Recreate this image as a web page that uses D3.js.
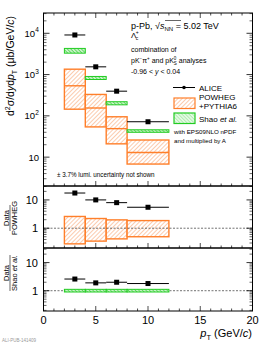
<!doctype html>
<html lang="en">
<head>
<meta charset="utf-8">
<title>Lambda_c+ cross section p-Pb</title>
<script src="https://d3js.org/d3.v7.min.js"></script>
<style>
  body { margin: 0; background: #fff; }
  svg { font-family: "Liberation Sans", Arial, sans-serif; }
</style>
</head>
<body>
<svg id="chart" width="261" height="345"></svg>
<script>
// pT bins
const ptCenters = [3, 5, 7, 10];
const ptLow = [2, 4, 6, 8];
const ptHigh = [4, 6, 8, 12];

// cross section (ub/GeV/c)
const aliceVals = [9100, 1540, 396, 72];
const powhegCentral = [535, 155, 49, 13];
const powhegLow = [145, 54, 21, 6.8];
const powhegHigh = [1350, 330, 95, 26];
const shaoLow = [3300, 760, 185, 40];
const shaoHigh = [4300, 900, 220, 46];

// ratios
const ratioPowheg = [17.5, 10, 8, 5.5];
const ratioPowhegLow = [0.28, 0.35, 0.42, 0.5];
const ratioPowhegHigh = [2.6, 2.2, 1.97, 1.86];
const ratioShao = [2.6, 1.9, 2.0, 1.8];
const ratioShaoLow = [0.9, 0.9, 0.9, 0.9];
const ratioShaoHigh = [1.12, 1.12, 1.12, 1.12];

const xTicks = [0, 5, 10, 15, 20];

const orange = "#ff7f2a";
const green = "#22cc22";

const svg = d3.select("#chart");
const L = 43.5, R = 252.5;
const x = d3.scaleLinear().domain([0, 20]).range([L, R]);

const yMain = d3.scaleLog().domain([2, 3.1e4]).range([186, 13]);
const yMid = d3.scaleLog().domain([0.2, 31]).range([248, 186]);
const yBot = d3.scaleLog().domain([0.19, 33]).range([311, 248]);

// hatch patterns
const defs = svg.append("defs");
const po = defs.append("pattern").attr("id", "hatchO").attr("patternUnits", "userSpaceOnUse")
  .attr("width", 3).attr("height", 3).attr("patternTransform", "rotate(45)");
po.append("rect").attr("width", 3).attr("height", 3).attr("fill", "#fff");
po.append("line").attr("x1", 0).attr("y1", 0).attr("x2", 0).attr("y2", 3)
  .attr("stroke", "#f9a877").attr("stroke-width", 1.2);
const pg = defs.append("pattern").attr("id", "hatchG").attr("patternUnits", "userSpaceOnUse")
  .attr("width", 2.5).attr("height", 2.5).attr("patternTransform", "rotate(-45)");
pg.append("rect").attr("width", 2.5).attr("height", 2.5).attr("fill", "#c8f2c8");
pg.append("line").attr("x1", 0).attr("y1", 0).attr("x2", 0).attr("y2", 2.5)
  .attr("stroke", green).attr("stroke-width", 1.1);

const idx = d3.range(ptCenters.length);

// ---- main panel ----
const gm = svg.append("g");
// POWHEG boxes
gm.selectAll(".pw").data(idx).enter().append("rect")
  .attr("x", i => x(ptLow[i])).attr("width", i => x(ptHigh[i]) - x(ptLow[i]))
  .attr("y", i => yMain(powhegHigh[i])).attr("height", i => yMain(powhegLow[i]) - yMain(powhegHigh[i]))
  .attr("fill", "url(#hatchO)").attr("stroke", orange).attr("stroke-width", 1.4);
gm.selectAll(".pwc").data(idx).enter().append("line")
  .attr("x1", i => x(ptLow[i])).attr("x2", i => x(ptHigh[i]))
  .attr("y1", i => yMain(powhegCentral[i])).attr("y2", i => yMain(powhegCentral[i]))
  .attr("stroke", orange).attr("stroke-width", 1.4);
// Shao boxes
gm.selectAll(".sh").data(idx).enter().append("rect")
  .attr("x", i => x(ptLow[i])).attr("width", i => x(ptHigh[i]) - x(ptLow[i]))
  .attr("y", i => yMain(shaoHigh[i])).attr("height", i => yMain(shaoLow[i]) - yMain(shaoHigh[i]))
  .attr("fill", "url(#hatchG)").attr("stroke", green).attr("stroke-width", 1);

function drawPoints(g, ys, vals) {
  g.selectAll(null).data(idx).enter().append("line")
    .attr("x1", i => x(ptLow[i])).attr("x2", i => x(ptHigh[i]))
    .attr("y1", i => ys(vals[i])).attr("y2", i => ys(vals[i]))
    .attr("stroke", "#000").attr("stroke-width", 1);
  g.selectAll(null).data(idx).enter().append("rect")
    .attr("x", i => x(ptCenters[i]) - 2.5).attr("y", i => ys(vals[i]) - 2.5)
    .attr("width", 5).attr("height", 5).attr("fill", "#000");
}
drawPoints(gm, yMain, aliceVals);

// ---- middle panel ----
const gmid = svg.append("g");
gmid.selectAll(null).data(idx).enter().append("rect")
  .attr("x", i => x(ptLow[i])).attr("width", i => x(ptHigh[i]) - x(ptLow[i]))
  .attr("y", i => yMid(ratioPowhegHigh[i])).attr("height", i => yMid(ratioPowhegLow[i]) - yMid(ratioPowhegHigh[i]))
  .attr("fill", "url(#hatchO)").attr("stroke", orange).attr("stroke-width", 1.4);
gmid.append("line").attr("x1", L).attr("x2", R).attr("y1", yMid(1)).attr("y2", yMid(1))
  .attr("stroke", "#333").attr("stroke-width", 0.7).attr("stroke-dasharray", "2,1.5");
drawPoints(gmid, yMid, ratioPowheg);

// ---- bottom panel ----
const gb = svg.append("g");
gb.append("line").attr("x1", L).attr("x2", R).attr("y1", yBot(1)).attr("y2", yBot(1))
  .attr("stroke", "#333").attr("stroke-width", 0.7).attr("stroke-dasharray", "2,1.5");
gb.selectAll(null).data(idx).enter().append("rect")
  .attr("x", i => x(ptLow[i])).attr("width", i => x(ptHigh[i]) - x(ptLow[i]))
  .attr("y", i => yBot(ratioShaoHigh[i])).attr("height", i => yBot(ratioShaoLow[i]) - yBot(ratioShaoHigh[i]))
  .attr("fill", "url(#hatchG)").attr("stroke", green).attr("stroke-width", 1);
drawPoints(gb, yBot, ratioShao);

// ---- frames and ticks ----
function frame(top, bottom, ys, majors, minors, topTicks) {
  svg.append("rect").attr("x", L).attr("y", top).attr("width", R - L).attr("height", bottom - top)
    .attr("fill", "none").attr("stroke", "#000").attr("stroke-width", 1);
  const ax = svg.append("g");
  // log y ticks left + right
  majors.forEach(v => {
    ax.append("line").attr("x1", L).attr("x2", L + 6).attr("y1", ys(v)).attr("y2", ys(v)).attr("stroke", "#000").attr("stroke-width", 0.8);
    ax.append("line").attr("x1", R).attr("x2", R - 6).attr("y1", ys(v)).attr("y2", ys(v)).attr("stroke", "#000").attr("stroke-width", 0.8);
  });
  minors.forEach(v => {
    ax.append("line").attr("x1", L).attr("x2", L + 3).attr("y1", ys(v)).attr("y2", ys(v)).attr("stroke", "#000").attr("stroke-width", 0.6);
    ax.append("line").attr("x1", R).attr("x2", R - 3).attr("y1", ys(v)).attr("y2", ys(v)).attr("stroke", "#000").attr("stroke-width", 0.6);
  });
  // x ticks
  d3.range(0, 21).forEach(v => {
    const len = v % 5 === 0 ? 5 : 2.5;
    ax.append("line").attr("x1", x(v)).attr("x2", x(v)).attr("y1", bottom).attr("y2", bottom - len).attr("stroke", "#000").attr("stroke-width", 0.7);
    if (topTicks) ax.append("line").attr("x1", x(v)).attr("x2", x(v)).attr("y1", top).attr("y2", top + len).attr("stroke", "#000").attr("stroke-width", 0.7);
  });
}
function logMinors(ys) {
  const [lo, hi] = ys.domain();
  const out = [];
  for (let e = -2; e <= 5; e++) for (let m = 2; m <= 9; m++) {
    const v = m * Math.pow(10, e);
    if (v > lo && v < hi) out.push(v);
  }
  return out;
}
frame(13, 186, yMain, [10, 100, 1000, 10000], logMinors(yMain), true);
frame(186, 248, yMid, [1, 10], logMinors(yMid), false);
frame(248, 311, yBot, [1, 10], logMinors(yBot), false);

// tick labels
function powLabel(v, exp, ys) {
  svg.append("text").attr("x", exp ? 35 : 39).attr("y", ys(v) + 3.5)
    .attr("text-anchor", "end").attr("font-size", 9.5).text("10");
  if (exp) {
    svg.append("text").attr("x", 35.3).attr("y", ys(v) - 1).attr("font-size", 6.5).text(exp);
  }
}
powLabel(10000, "4", yMain);
powLabel(1000, "3", yMain);
powLabel(100, "2", yMain);
powLabel(10, null, yMain);
[[yMid, 10], [yMid, 1], [yBot, 10], [yBot, 1]].forEach(([ys, v]) => {
  svg.append("text").attr("x", 38).attr("y", ys(v) + 4).attr("text-anchor", "end")
    .attr("font-size", 11).text(v);
});
xTicks.forEach(v => {
  svg.append("text").attr("x", x(v)).attr("y", 324).attr("text-anchor", "middle")
    .attr("font-size", 11).text(v);
});

// axis titles
const yt = svg.append("text").attr("transform", "translate(14,66) rotate(-90)")
  .attr("text-anchor", "middle").attr("font-size", 10.5);
yt.append("tspan").text("d");
yt.append("tspan").attr("font-size", 7).attr("dy", -4).text("2");
yt.append("tspan").attr("dy", 4).text("σ/d");
yt.append("tspan").attr("font-style", "italic").text("y");
yt.append("tspan").text("d");
yt.append("tspan").attr("font-style", "italic").text("p");
yt.append("tspan").attr("font-size", 7).attr("dy", 3).text("T");
yt.append("tspan").attr("dy", -3).text("  (μb/GeV/");
yt.append("tspan").attr("font-style", "italic").text("c");
yt.append("tspan").text(")");

function fraction(cy, top, bottomParts, half) {
  const g = svg.append("g").attr("transform", `translate(10,${cy}) rotate(-90)`);
  g.append("text").attr("y", -1.5).attr("text-anchor", "middle").attr("font-size", 7.5).text(top);
  const b = g.append("text").attr("y", 6.5).attr("text-anchor", "middle").attr("font-size", 7.5);
  bottomParts.forEach(p => b.append("tspan").attr("font-style", p[1] ? "italic" : null).text(p[0]));
  g.append("line").attr("x1", -half).attr("x2", half).attr("y1", 0).attr("y2", 0)
    .attr("stroke", "#000").attr("stroke-width", 0.6);
  return g;
}
fraction(218, "Data", [["POWHEG", false]], 13);
fraction(273, "Data", [["Shao ", false], ["et al.", true]], 18);

const xt = svg.append("text").attr("x", 252).attr("y", 337).attr("text-anchor", "end").attr("font-size", 11);
xt.append("tspan").attr("font-style", "italic").text("p");
xt.append("tspan").attr("font-size", 7.5).attr("dy", 3).text("T");
xt.append("tspan").attr("dy", -3).text(" (GeV/");
xt.append("tspan").attr("font-style", "italic").text("c");
xt.append("tspan").text(")");

// annotations
const a1 = svg.append("text").attr("x", 131).attr("y", 28.5).attr("font-size", 9);
a1.append("tspan").text("p-Pb, √");
a1.append("tspan").attr("font-style", "italic").text("s");
a1.append("tspan").attr("font-size", 6).attr("dy", 2).text("NN");
a1.append("tspan").attr("dy", -2).text(" = 5.02 TeV");
svg.append("line").attr("x1", 165).attr("x2", 181).attr("y1", 20.5).attr("y2", 20.5)
  .attr("stroke", "#000").attr("stroke-width", 0.6);

const a2 = svg.append("text").attr("x", 131).attr("y", 38).attr("font-size", 8);
a2.append("tspan").text("Λ");
a2.append("tspan").attr("font-size", 5).attr("dx", -0.5).attr("dy", 2).text("c");
a2.append("tspan").attr("font-size", 5).attr("dx", -2.5).attr("dy", -6).text("+");

svg.append("text").attr("x", 131).attr("y", 51.5).attr("font-size", 7).text("combination of");
const a4 = svg.append("text").attr("x", 131).attr("y", 63).attr("font-size", 7);
a4.append("tspan").text("pK");
a4.append("tspan").attr("font-size", 4.5).attr("dy", -3).text("−");
a4.append("tspan").attr("dy", 3).text("π");
a4.append("tspan").attr("font-size", 4.5).attr("dy", -3).text("+");
a4.append("tspan").attr("dy", 3).text(" and pK");
a4.append("tspan").attr("font-size", 4.5).attr("dy", -3.5).text("0");
a4.append("tspan").attr("font-size", 4.5).attr("dx", -2.5).attr("dy", 5.5).text("S");
a4.append("tspan").attr("dy", -2).text(" analyses");
const a5 = svg.append("text").attr("x", 131).attr("y", 74).attr("font-size", 7);
a5.append("tspan").text("-0.96 < ");
a5.append("tspan").attr("font-style", "italic").text("y");
a5.append("tspan").text(" < 0.04");

svg.append("text").attr("x", 57).attr("y", 176.5).attr("font-size", 6.3)
  .text("± 3.7% lumi. uncertainty not shown");

// legend
const lg = svg.append("g");
lg.append("line").attr("x1", 173).attr("x2", 195).attr("y1", 87.5).attr("y2", 87.5).attr("stroke", "#000").attr("stroke-width", 1);
lg.append("circle").attr("cx", 184).attr("cy", 87.5).attr("r", 1.8).attr("fill", "#000");
lg.append("text").attr("x", 199).attr("y", 90.5).attr("font-size", 8).text("ALICE");
lg.append("rect").attr("x", 174).attr("y", 98).attr("width", 21).attr("height", 10.5)
  .attr("fill", "url(#hatchO)").attr("stroke", orange).attr("stroke-width", 1.2);
lg.append("text").attr("x", 199).attr("y", 100).attr("font-size", 8).text("POWHEG");
lg.append("text").attr("x", 199).attr("y", 108.5).attr("font-size", 8).text("+PYTHIA6");
lg.append("rect").attr("x", 174).attr("y", 113).attr("width", 21).attr("height", 10.5)
  .attr("fill", "url(#hatchG)").attr("fill-opacity", 0.5).attr("stroke", green).attr("stroke-width", 1.2);
const ls = lg.append("text").attr("x", 199).attr("y", 121.5).attr("font-size", 8);
ls.append("tspan").text("Shao ");
ls.append("tspan").attr("font-style", "italic").text("et al.");
lg.append("text").attr("x", 174).attr("y", 134).attr("font-size", 6.2).text("with EPS09NLO nPDF");
lg.append("text").attr("x", 174).attr("y", 143).attr("font-size", 6.2).text("and multiplied by A");

svg.append("text").attr("x", 2).attr("y", 342).attr("font-size", 4.5).attr("fill", "#999")
  .text("ALI-PUB-141409");
</script>
</body>
</html>
